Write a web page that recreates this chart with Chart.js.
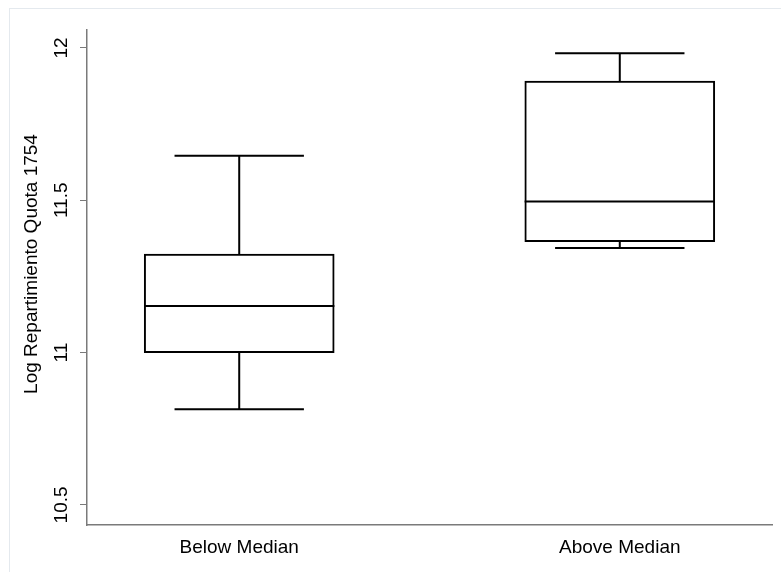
<!DOCTYPE html>
<html>
<head>
<meta charset="utf-8">
<script src="https://cdn.jsdelivr.net/npm/chart.js@4.4.1/dist/chart.umd.min.js"></script>
<style>
  body { margin: 0; background: #fff; }
  #wrap { position: relative; width: 781px; height: 572px; overflow: hidden; }
  #frame { position: absolute; left: 9px; top: 8px; width: 820px; height: 620px;
           border: 1px solid #e4e9ee; pointer-events: none; }
</style>
</head>
<body>
<div id="wrap">
  <canvas id="boxChart" width="781" height="572"></canvas>
  <div id="frame"></div>
</div>
<script>
// Box plot values
var categories = ['Below Median', 'Above Median'];
var whiskerLow = [10.814, 11.343];
var q1 = [11.0, 11.364];
var median = [11.153, 11.496];
var q3 = [11.323, 11.891];
var whiskerHigh = [11.646, 11.983];
var yTicks = [10.5, 11, 11.5, 12];
var yTitle = 'Log Repartimiento Quota 1754';

var BOX_HALF = 0.25;   // half box width in category units
var CAP_HALF = 0.17;   // half whisker cap width
var FONT = { family: 'Liberation Sans, Arial, sans-serif', size: 19 };

document.addEventListener('DOMContentLoaded', function () {
  var ctx = document.getElementById('boxChart').getContext('2d');

  // boxes as floating bars
  var boxData = categories.map(function (c, i) {
    return { x: i + 1, y: [q1[i], q3[i]] };
  });

  // median, whiskers and caps as one broken line
  var lineData = [];
  categories.forEach(function (c, i) {
    var x = i + 1;
    var segs = [
      [[x - BOX_HALF, median[i]], [x + BOX_HALF, median[i]]],
      [[x, q3[i]], [x, whiskerHigh[i]]],
      [[x - CAP_HALF, whiskerHigh[i]], [x + CAP_HALF, whiskerHigh[i]]],
      [[x, q1[i]], [x, whiskerLow[i]]],
      [[x - CAP_HALF, whiskerLow[i]], [x + CAP_HALF, whiskerLow[i]]]
    ];
    segs.forEach(function (s) {
      lineData.push({ x: s[0][0], y: s[0][1] });
      lineData.push({ x: s[1][0], y: s[1][1] });
      lineData.push({ x: s[1][0], y: null });
    });
  });

  // y axis title, placed like the original
  var titlePlugin = {
    id: 'yTitle',
    afterDraw: function (chart) {
      var c = chart.ctx;
      c.save();
      c.translate(32, 264);
      c.rotate(-Math.PI / 2);
      c.font = FONT.size + 'px ' + FONT.family;
      c.fillStyle = '#000';
      c.textAlign = 'center';
      c.textBaseline = 'middle';
      c.fillText(yTitle, 0, 0);
      c.restore();
    }
  };

  var config = {
    type: 'bar',
    data: {
      datasets: [
        {
          type: 'line',
          data: lineData,
          borderColor: '#000',
          borderWidth: 2,
          pointRadius: 0,
          spanGaps: false,
          order: 0
        },
        {
          type: 'bar',
          data: boxData,
          backgroundColor: '#fff',
          borderColor: '#000',
          borderWidth: 2,
          borderSkipped: false,
          barThickness: 190,
          order: 1
        }
      ]
    },
    options: {
      responsive: false,
      animation: false,
      layout: { padding: { left: 0, top: 30, right: 9, bottom: 0 } },
      plugins: { legend: { display: false }, tooltip: { enabled: false } },
      scales: {
        x: {
          type: 'linear',
          min: 0.6,
          max: 2.4,
          offset: false,
          grid: { display: false, drawTicks: false, offset: false },
          border: { display: true, color: '#7a7a7a', width: 1.5 },
          afterBuildTicks: function (scale) {
            scale.ticks = categories.map(function (c, i) { return { value: i + 1 }; });
          },
          afterFit: function (scale) { scale.height = 47; },
          ticks: {
            padding: 11,
            color: '#000',
            font: FONT,
            maxRotation: 0,
            autoSkip: false,
            callback: function (v) { return categories[Math.round(v) - 1] || ''; }
          }
        },
        y: {
          min: 10.434,
          max: 12.059,
          beginAtZero: false,
          grid: { display: true, drawOnChartArea: false, drawTicks: true, tickLength: 7, color: '#7a7a7a', lineWidth: 1 },
          border: { display: true, color: '#7a7a7a', width: 1.5 },
          afterBuildTicks: function (scale) {
            scale.ticks = yTicks.map(function (v) { return { value: v }; });
          },
          afterFit: function (scale) { scale.width = 87; },
          ticks: {
            minRotation: 90,
            maxRotation: 90,
            crossAlign: 'center',
            padding: 0,
            color: '#000',
            font: FONT,
            callback: function (v) { return String(v); }
          }
        }
      }
    },
    plugins: [titlePlugin]
  };

  var boxChart = new Chart(ctx, config);
});
</script>
</body>
</html>
